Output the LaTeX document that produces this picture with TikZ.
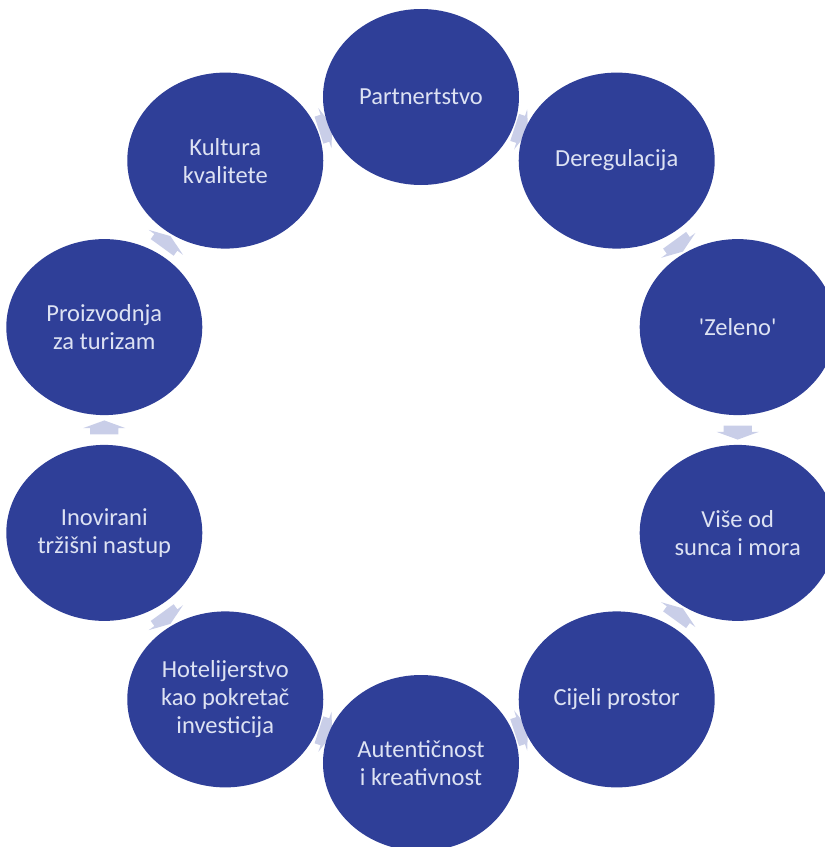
\documentclass[tikz,border=0pt]{standalone}
\usepackage{fontspec}
\setmainfont{Carlito}
\usetikzlibrary{shapes.geometric,shapes.arrows,backgrounds}
\definecolor{tamnoplava}{HTML}{2F3F98}
\definecolor{strelicaboja}{HTML}{C9CEE8}
\definecolor{slova}{HTML}{DDE2F3}
\tikzset{
  krug/.style={ellipse, fill=tamnoplava, text=slova, align=center,
    minimum width=196pt, minimum height=176pt, inner sep=0pt,
    font=\fontsize{24.5}{28}\selectfont},
  strelica/.style={single arrow, fill=strelicaboja, draw=none,
    inner xsep=0pt, inner ysep=14pt, minimum height=14pt,
    single arrow head extend=7pt, single arrow tip angle=140}
}
\begin{document}
\begin{tikzpicture}[x=1pt,y=1pt]
\useasboundingbox (-421,-417) rectangle (404,430);
% krugovi u ciklusu
\foreach \ime/\kut/\tekst in {part/90/Partnertstvo, dereg/54/Deregulacija,
    zeleno/18/{\textquotesingle Zeleno\textquotesingle}, sunce/-18/{Više od\\sunca i mora},
    prostor/-54/Cijeli prostor, autent/-90/{Autentičnost\\i kreativnost},
    hotel/-126/{Hotelijerstvo\\kao pokretač\\investicija},
    nastup/-162/{Inovirani\\tržišni nastup},
    proizv/162/{Proizvodnja\\za turizam}, kultura/126/{Kultura\\kvalitete}}
    \node[krug] (\ime) at (\kut:333) {\tekst};
% strelice ispod krugova
\begin{pgfonlayer}{background}
\foreach \a/\b in {part/dereg, dereg/zeleno, zeleno/sunce, sunce/prostor,
    prostor/autent, autent/hotel, hotel/nastup, nastup/proizv,
    proizv/kultura, kultura/part}
    \path (\a) -- (\b) node[midway, sloped, strelica] {};
\end{pgfonlayer}
\end{tikzpicture}
\end{document}
